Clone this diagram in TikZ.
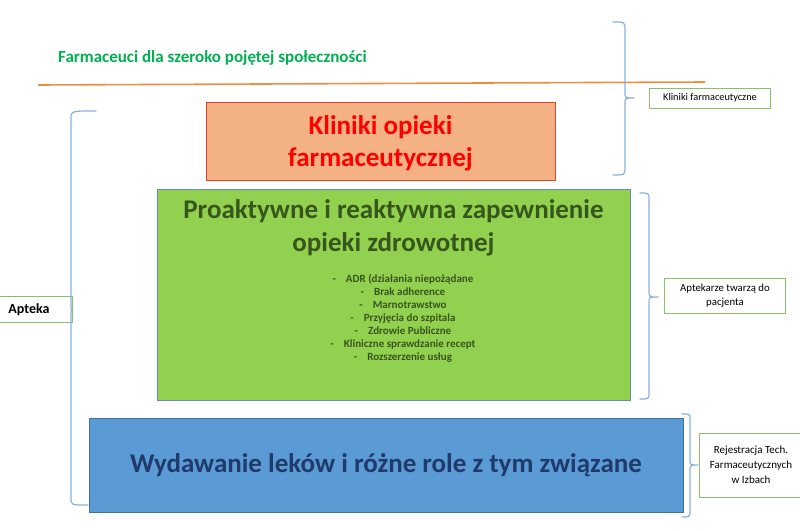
\documentclass[tikz,border=0pt]{standalone}
\usepackage{fontspec}
\setmainfont{Carlito}
\definecolor{titlegreen}{HTML}{00B050}
\definecolor{lineorange}{HTML}{F08C40}
\definecolor{redfill}{HTML}{F4B183}
\definecolor{redline}{HTML}{E0452A}
\definecolor{greenfill}{HTML}{92D050}
\definecolor{greenline}{HTML}{6A8CB0}
\definecolor{darkgreentext}{HTML}{37561C}
\definecolor{bluefill}{HTML}{5B9BD5}
\definecolor{blueline}{HTML}{41719C}
\definecolor{bluetext}{HTML}{1F3A6B}
\definecolor{bracecol}{HTML}{86B0DC}
\definecolor{smallline}{HTML}{8CBF6A}
\newcommand{\fs}[1]{\fontsize{#1}{#1}\selectfont}
\begin{document}
\begin{tikzpicture}[x=1pt,y=-1pt,
  bigbox/.style={draw,line width=1pt,inner sep=0pt,align=center},
  sidebox/.style={draw=smallline,line width=1pt,fill=white,inner sep=0pt,align=center,font=\fs{10.8}},
  bracepath/.style={draw=bracecol,line width=1.2pt,line cap=round,line join=round},
  txt/.style={inner sep=0pt,align=center}]
\useasboundingbox (0,0) rectangle (800,530);
% title and orange line
\node[txt,anchor=west,text=titlegreen,font=\bfseries\fs{17}] (title) at (58,58) {Farmaceuci dla szeroko pojętej społeczności};
\coordinate (ol) at (38,85);
\coordinate (or) at (705,82);
\draw[lineorange,line width=1.6pt] (ol) -- (or);
% main boxes
\node[bigbox,draw=redline,fill=redfill,minimum width=349pt,minimum height=78pt,text=red,font=\bfseries\fs{27},text depth=0pt] (red) at (380.5,141) {Kliniki opieki\\[5pt]farmaceutycznej};
\node[bigbox,draw=greenline,fill=greenfill,minimum width=473pt,minimum height=211pt] (green) at (393.5,294.5) {};
\node[txt,text=darkgreentext,font=\bfseries\fs{27}] (gtitle) at (393.5,228) {Proaktywne i reaktywna zapewnienie\\[6pt]opieki zdrowotnej};
\node[txt,text=darkgreentext,font=\bfseries\fs{11}] (glist) at (403,318) {%
-\hspace{10pt}ADR (działania niepożądane\\[2pt]
-\hspace{10pt}Brak adherence\\[2pt]
-\hspace{10pt}Marnotrawstwo\\[2pt]
-\hspace{10pt}Przyjęcia do szpitala\\[2pt]
-\hspace{10pt}Zdrowie Publiczne\\[2pt]
-\hspace{10pt}Kliniczne sprawdzanie recept\\[2pt]
-\hspace{10pt}Rozszerzenie usług};
\node[bigbox,draw=blueline,fill=bluefill,minimum width=594pt,minimum height=94pt,text=bluetext,font=\bfseries\fs{27}] (blue) at (386,465) {Wydawanie leków i różne role z tym związane};
% side boxes
\node[sidebox,minimum width=121pt,minimum height=20pt,font=\fs{10.3}] (kf) at (710,98) {Kliniki farmaceutyczne};
\node[sidebox,minimum width=121pt,minimum height=35pt] (apt) at (725,295.5) {Aptekarze twarzą do\\[3pt]pacjenta};
\node[sidebox,minimum width=104pt,minimum height=64pt,font=\fs{11}] (rej) at (751,465) {Rejestracja Tech.\\[4pt]Farmaceutycznych\\[4pt]w Izbach};
\node[sidebox,minimum width=87pt,minimum height=26pt,font=\bfseries\fs{14}] (apteka) at (29,309.5) {Apteka};
% right brace 1 (Kliniki farmaceutyczne)
\coordinate (t1) at (634,98);
\draw[bracepath] (613,22) .. controls (625,22) .. (625,30) -- (625,92) .. controls (625,98) .. (t1)
  .. controls (625,98) .. (625,104) -- (625,167) .. controls (625,175) .. (613,175);
% right brace 2 (Aptekarze)
\coordinate (t2) at (658,297);
\draw[bracepath] (640,193) .. controls (649,193) .. (649,200) -- (649,291) .. controls (649,297) .. (t2)
  .. controls (649,297) .. (649,303) -- (649,392) .. controls (649,399) .. (640,399);
% right brace 3 (Rejestracja)
\coordinate (t3) at (698,465);
\draw[bracepath] (682,414) .. controls (690,414) .. (690,420) -- (690,459) .. controls (690,465) .. (t3)
  .. controls (690,465) .. (690,471) -- (690,510) .. controls (690,517) .. (682,517);
% left brace (Apteka)
\draw[bracepath] (96,111) .. controls (71,111) .. (71,118) -- (71,303) .. controls (71,309.5) .. (apteka.east)
  .. controls (71,309.5) .. (71,316) -- (71,498) .. controls (71,505) .. (88,505);
\end{tikzpicture}
\end{document}
